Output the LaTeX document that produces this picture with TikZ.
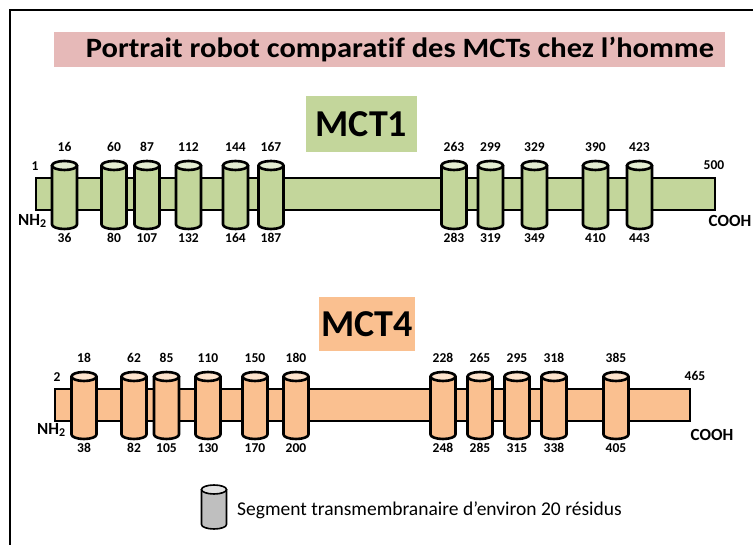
\documentclass[tikz,border=0pt]{standalone}
\usepackage{fontspec}
\setmainfont[Ligatures=CommonOff]{Carlito}
\definecolor{titlepink}{HTML}{E6B9B8}
\definecolor{mctgreen}{HTML}{C3D69B}
\definecolor{mctorange}{HTML}{FAC090}
\definecolor{seggray}{HTML}{BFBFBF}

% transmembrane segment drawn as an upright cylinder
% #1 centre x, #2 top y, #3 bottom y, #4 fill colour, #5 line width
\newcommand\tmcyl[5]{%
  \filldraw[line width=#5, fill=#4, line join=round]
    (#1-12.5,#2+4.5) -- (#1-12.5,#3-4.5)
    arc[start angle=180, end angle=360, x radius=12.5pt, y radius=4.5pt]
    -- (#1+12.5,#2+4.5) -- cycle;
  \filldraw[line width=#5, fill=#4!45!white]
    (#1,#2+4.5) ellipse[x radius=12.5pt, y radius=4.5pt];
}

\tikzset{
  num/.style={font=\bfseries\fontsize{13.5}{14}\selectfont, inner sep=0pt},
  term/.style={font=\bfseries\fontsize{17}{17}\selectfont, inner sep=0pt},
  mctlabel/.style={font=\bfseries\fontsize{38}{38}\selectfont},
  chain/.style={line width=2.4pt}
}

\begin{document}
\begin{tikzpicture}[x=1pt, y=-1pt]
\useasboundingbox (0,0) rectangle (753,545);
\fill[white] (0,0) rectangle (753,545);

% outer frame
\draw[line width=2.4pt] (10,545) -- (10,10) -- (753,10);

% title
\fill[titlepink] (54,32) rectangle (725,67);
\node[font=\bfseries\fontsize{28}{28}\selectfont, xscale=1.09] (title) at (400,49.5)
  {Portrait robot comparatif des MCTs chez l’homme};

% ---------------- MCT1 ----------------
\fill[mctgreen] (306,96) rectangle (417,152);
\node[mctlabel] (mct1) at (361.5,124) {MCT1};
\filldraw[chain, fill=mctgreen] (36,178) rectangle (715,210);
\foreach \cx/\a/\b in {64.5/16/36, 114/60/80, 147/87/107, 188.5/112/132,
    235.5/144/164, 271/167/187, 454/263/283, 490.5/299/319, 534.5/329/349,
    595.5/390/410, 639.5/423/443} {
  \tmcyl{\cx}{161}{229}{mctgreen}{2.6pt}
  \node[num] (a1-\a) at (\cx,147) {\a};
  \node[num] (b1-\b) at (\cx,238) {\b};
}
\node[num] (n1start) at (35,166) {1};
\node[term, anchor=west] (nh1) at (18,221) {NH\textsubscript{2}};
\node[num] (n1end) at (714,165) {500};
\node[term] (cooh1) at (730,221) {COOH};

% ---------------- MCT4 ----------------
\fill[mctorange] (319,297) rectangle (415,351);
\node[mctlabel] (mct4) at (367,324) {MCT4};
\filldraw[chain, fill=mctorange] (55,389) rectangle (690,421);
\foreach \cx/\a/\b in {84/18/38, 134/62/82, 166.5/85/105, 208/110/130,
    255/150/170, 296/180/200, 443/228/248, 480/265/285, 517/295/315,
    554/318/338, 616/385/405} {
  \tmcyl{\cx}{372}{439}{mctorange}{2.6pt}
  \node[num] (a4-\a) at (\cx,358) {\a};
  \node[num] (b4-\b) at (\cx,448) {\b};
}
\node[num] (n4start) at (57,377) {2};
\node[term, anchor=west] (nh4) at (37,430) {NH\textsubscript{2}};
\node[num] (n4end) at (695,376) {465};
\node[term] (cooh4) at (712,435) {COOH};

% ---------------- legend ----------------
\tmcyl{214}{485}{529}{seggray}{1.6pt}
\node[font=\fontsize{19.5}{20}\selectfont, anchor=west, inner sep=0pt] (legend)
  at (237,510) {Segment transmembranaire d’environ 20 résidus};
\end{tikzpicture}
\end{document}
